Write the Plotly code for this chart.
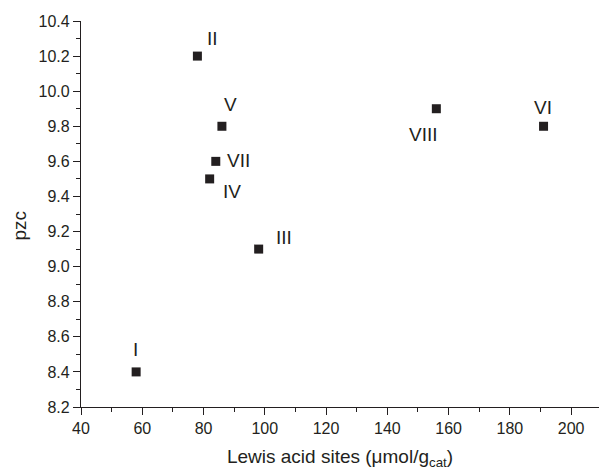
import plotly.graph_objects as go

# Data
labels = ["I", "II", "III", "IV", "V", "VI", "VII", "VIII"]
lewis_acid = [58, 78, 98, 82, 86, 191, 84, 156]
pzc = [8.4, 10.2, 9.1, 9.5, 9.8, 9.8, 9.6, 9.9]
x_ticks = [40, 60, 80, 100, 120, 140, 160, 180, 200]
y_ticks = [8.2, 8.4, 8.6, 8.8, 9.0, 9.2, 9.4, 9.6, 9.8, 10.0, 10.2, 10.4]

# label offsets (pixels) for point annotations
label_shift = {
    "I": (-1, 22), "II": (15, 18), "III": (25, 12), "IV": (22, -13),
    "V": (9, 22), "VI": (-1, 19), "VII": (23, 1), "VIII": (-13, -26),
}

ink = "#231f20"
font = "Liberation Sans, Arial, sans-serif"

fig = go.Figure()
fig.add_trace(go.Scatter(
    x=lewis_acid, y=pzc, mode="markers",
    marker=dict(symbol="square", size=9, color=ink, line=dict(width=0)),
    showlegend=False, hoverinfo="x+y",
))

for lab, xv, yv in zip(labels, lewis_acid, pzc):
    dx, dy = label_shift[lab]
    fig.add_annotation(x=xv, y=yv, text=lab, showarrow=False,
                       xshift=dx, yshift=dy, xanchor="center", yanchor="middle",
                       font=dict(family=font, size=19, color=ink))

# y-axis title as annotation (placed slightly below the axis centre, as in the reference)
fig.add_annotation(xref="paper", yref="paper", x=-0.118, y=0.47, text="pzc",
                   textangle=-90, showarrow=False, xanchor="center", yanchor="middle",
                   font=dict(family=font, size=19, color=ink))

fig.update_layout(
    width=599, height=470,
    margin=dict(l=81, r=0, t=21, b=63),
    paper_bgcolor="white", plot_bgcolor="white",
    font=dict(family=font, color=ink),
)
fig.update_xaxes(
    automargin=False,
    range=[40, 209.1], tickvals=x_ticks, ticktext=[str(v) for v in x_ticks],
    showgrid=False, zeroline=False, showline=True, linecolor=ink, linewidth=1.3,
    ticks="outside", ticklen=7, tickwidth=1.3, tickcolor=ink,
    tickfont=dict(family=font, size=16, color=ink),
    minor=dict(dtick=10, tick0=40, ticks="outside", ticklen=3.5, tickwidth=1.3, tickcolor=ink, showgrid=False),
    title=dict(text="Lewis acid sites (μmol/g<sub>cat</sub>)", font=dict(family=font, size=19, color=ink), standoff=16),
)
fig.update_yaxes(
    automargin=False,
    range=[8.2, 10.4], tickvals=y_ticks, ticktext=[f"{v:.1f}" for v in y_ticks],
    showgrid=False, zeroline=False, showline=True, linecolor=ink, linewidth=1.3,
    ticks="outside", ticklen=7, tickwidth=1.3, tickcolor=ink,
    tickfont=dict(family=font, size=16, color=ink),
    minor=dict(dtick=0.1, tick0=8.2, ticks="outside", ticklen=3.5, tickwidth=1.3, tickcolor=ink, showgrid=False),
)

fig.write_html("out.html", config={"displayModeBar": False},
               post_script="document.body.style.margin='0';document.body.style.overflow='hidden';")
